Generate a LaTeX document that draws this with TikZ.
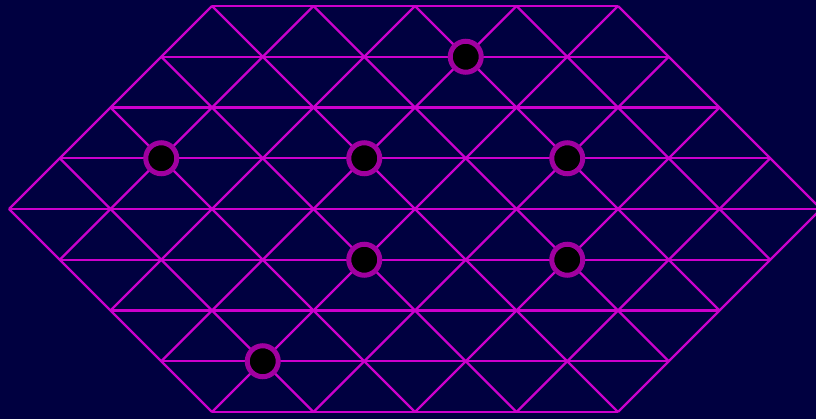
\documentclass[tikz,border=0pt]{standalone}
\definecolor{bgnavy}{HTML}{000040}
\definecolor{gridmag}{HTML}{CC00CC}
\definecolor{pegmag}{HTML}{A000A0}
\begin{document}
\begin{tikzpicture}[x=1pt,y=-1pt,
  gridline/.style={gridmag, line width=2.4pt},
  pegnode/.style={circle, draw=pegmag, fill=black, line width=5pt, minimum size=31pt, inner sep=0pt}]
\useasboundingbox (0,0) rectangle (816,419);
\clip (0,0) rectangle (816,419);
\fill[bgnavy] (0,0) rectangle (816,419);
\def\gu{50.75}
% horizontal lines
\foreach \j in {-4,...,4} {
  \pgfmathsetmacro\a{abs(\j)}
  \draw[gridline] ({9+\a*\gu},{209-(\j)*\gu}) -- ({9+(16-\a)*\gu},{209-(\j)*\gu});
}
% diagonal lines
\foreach \c in {0,2,...,16} {
  \pgfmathsetmacro\ja{max(-4,-\c/2)}
  \pgfmathsetmacro\jb{min(4,(16-\c)/2)}
  \draw[gridline] ({9+(\ja+\c)*\gu},{209-(\ja)*\gu}) -- ({9+(\jb+\c)*\gu},{209-(\jb)*\gu});
  \pgfmathsetmacro\ka{max(-4,(\c-16)/2)}
  \pgfmathsetmacro\kb{min(4,\c/2)}
  \draw[gridline] ({9+(\c-\ka)*\gu},{209-(\ka)*\gu}) -- ({9+(\c-\kb)*\gu},{209-(\kb)*\gu});
}
% pegs
\node[pegnode] (p1) at ({9+9*\gu},{209-3*\gu}) {};
\node[pegnode] (p2) at ({9+3*\gu},{209-1*\gu}) {};
\node[pegnode] (p3) at ({9+7*\gu},{209-1*\gu}) {};
\node[pegnode] (p4) at ({9+11*\gu},{209-1*\gu}) {};
\node[pegnode] (p5) at ({9+7*\gu},{209+1*\gu}) {};
\node[pegnode] (p6) at ({9+11*\gu},{209+1*\gu}) {};
\node[pegnode] (p7) at ({9+5*\gu},{209+3*\gu}) {};
\end{tikzpicture}
\end{document}
